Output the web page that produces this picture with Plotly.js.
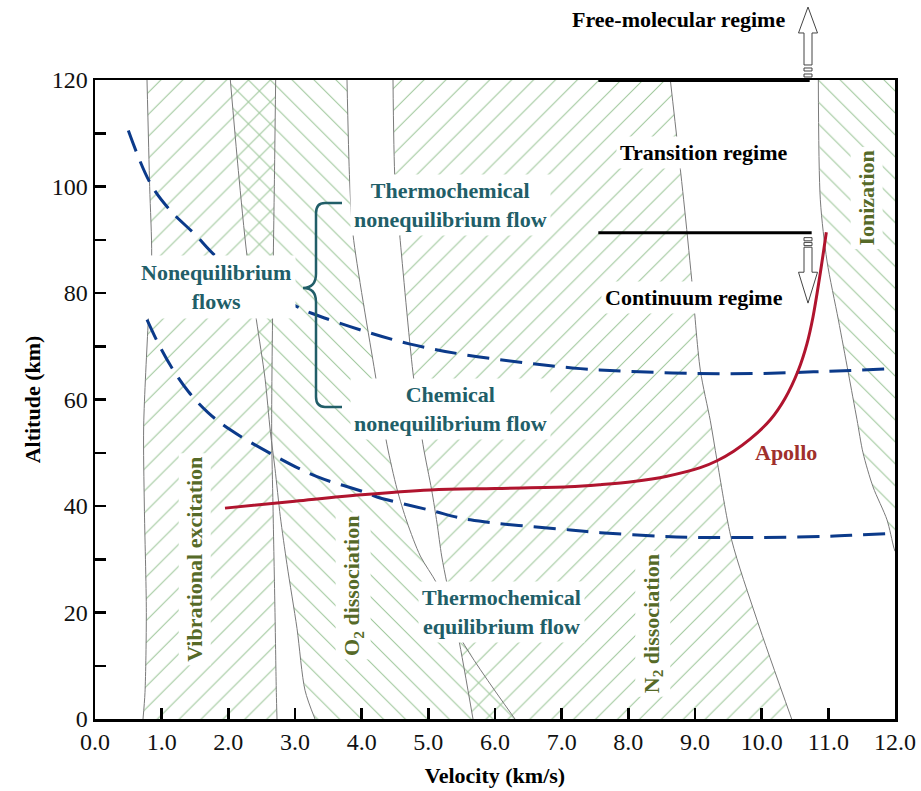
<!DOCTYPE html>
<html>
<head>
<meta charset="utf-8">
<script src="https://cdn.plot.ly/plotly-3.0.1.min.js"></script>
<style>
  html, body { margin: 0; padding: 0; background: #ffffff; }
  #chart { width: 921px; height: 791px; }
</style>
</head>
<body>
<div id="chart"></div>
<script>
// Velocity–altitude map with regions of vibrational excitation,
// O2 / N2 dissociation and ionization, plus the Apollo entry trajectory.

// ---- boundary curves: velocity (km/s) at altitude (km) ----
const vibStartV = [0.78, 0.82, 0.85, 0.80, 0.73, 0.74, 0.77, 0.75, 0.72];
const vibStartH = [120, 100, 87, 75, 55, 40, 20, 5, 0];

const vibEndV = [2.71, 2.69, 2.675, 2.65, 2.67, 2.70, 2.72, 2.73];
const vibEndH = [120, 100, 87, 54, 40, 20, 5, 0];

const o2StartV = [2.03, 2.15, 2.28, 2.42, 2.55, 2.63, 2.70, 2.78, 2.88, 3.03, 3.15, 3.30];
const o2StartH = [120, 103, 87, 75, 64, 54, 47, 38, 29, 17, 5.4, 0];

const o2EndV = [3.78, 3.82, 3.87, 4.20, 4.38, 4.53, 4.68, 4.88, 5.13, 5.50, 6.30];
const o2EndH = [120, 101, 91, 65, 51.5, 43.2, 37.0, 30.6, 25.4, 14.8, 0];

const n2StartV = [4.47, 4.50, 4.57, 4.77, 4.92, 5.05, 5.13, 5.20, 5.28, 5.45, 5.67];
const n2StartH = [120, 101, 91, 65, 51.5, 43.0, 36.8, 30.6, 25.4, 15.4, 0];

const n2EndV = [8.63, 8.83, 8.95, 9.08, 9.23, 9.33, 9.55, 9.93, 10.45];
const n2EndH = [120, 97.5, 82.6, 65.5, 56, 48.6, 33.6, 18.6, 0];

const ionStartV = [10.85, 10.88, 10.98, 11.15, 11.30, 11.43, 11.52, 11.67, 11.88, 11.98, 12.0];
const ionStartH = [120, 97.5, 86, 75, 65, 56.2, 50, 43.6, 37.4, 32.3, 31.5];
const ionEdgeV = [12, 12];
const ionEdgeH = [120, 31.5];

// ---- flow-regime boundaries (dashed) ----
const thermoNoneqV = [0.5, 0.83, 1.13, 1.5, 1.83, 2.45, 3.1, 3.25, 4.0, 4.73, 5.5, 6.5, 7.28, 8.0, 9.0, 10.0, 11.0, 12.0];
const thermoNoneqH = [110.5, 100.6, 95.5, 91, 86.7, 81.5, 77, 76.2, 73, 70.4, 68.5, 66.8, 65.8, 65.3, 64.9, 64.9, 65.3, 65.8];

const chemNoneqV = [0.78, 0.95, 1.15, 1.4, 1.7, 2.03, 2.67, 3.33, 4.02, 4.23, 5.03, 5.63, 7.13, 7.58, 8.5, 9.08, 10.0, 11.0, 11.5, 12.0];
const chemNoneqH = [75, 70.5, 66, 61.5, 57.5, 54.3, 49.6, 45.5, 42.7, 41.7, 39.2, 37.4, 35.5, 35.0, 34.3, 34.1, 34.1, 34.3, 34.6, 34.9];

// ---- Apollo trajectory ----
const apolloV = [1.95, 3.0, 4.0, 5.03, 6.0, 7.1, 7.58, 8.08, 8.58, 9.08, 9.33, 9.58, 9.83, 10.13, 10.35, 10.55, 10.68, 10.77, 10.87, 10.97];
const apolloH = [39.6, 40.9, 42.1, 43.0, 43.3, 43.6, 44.0, 44.6, 45.6, 47.2, 48.5, 50.3, 52.6, 56.2, 60.2, 65.5, 70.5, 75.5, 83.0, 91.4];

// ---- rarefaction regime limits ----
const continuumV = [7.55, 10.75];
const continuumH = [91.3, 91.3];
const freeMolV = [7.55, 10.72];
const freeMolH = [120, 120];

// ---- axes ----
const xTickVals = [0, 1, 2, 3, 4, 5, 6, 7, 8, 9, 10, 11, 12];
const xTickText = ['0.0', '1.0', '2.0', '3.0', '4.0', '5.0', '6.0', '7.0', '8.0', '9.0', '10.0', '11.0', '12.0'];
const yTickVals = [0, 20, 40, 60, 80, 100, 120];
const yTickText = ['0', '20', '40', '60', '80', '100', '120'];

// ---- styling ----
const SERIF = 'Liberation Serif, Times New Roman, serif';
const HATCH = '#9cc598';
const EDGE = '#7a7a7a';
const TEAL = '#215e68';
const OLIVE = '#566a28';
const NAVY = '#0b3a8a';
const CRIMSON = '#b0142e';

function band(leftV, leftH, rightV, rightH, shape) {
  return {
    x: leftV.concat(rightV.slice().reverse()),
    y: leftH.concat(rightH.slice().reverse()),
    mode: 'lines',
    line: { width: 0 },
    fill: 'toself',
    fillcolor: 'rgba(0,0,0,0)',
    fillpattern: { shape: shape, fgcolor: HATCH, bgcolor: 'rgba(0,0,0,0)', size: 15.5, solidity: 0.065 },
    hoverinfo: 'skip'
  };
}

function edge(v, h) {
  return { x: v, y: h, mode: 'lines', line: { color: EDGE, width: 1, shape: 'spline', smoothing: 0.8 }, hoverinfo: 'skip' };
}

const traces = [
  band(vibStartV, vibStartH, vibEndV, vibEndH, '/'),
  band(o2StartV, o2StartH, o2EndV, o2EndH, '\\'),
  band(n2StartV, n2StartH, n2EndV, n2EndH, '/'),
  band(ionStartV, ionStartH, ionEdgeV, ionEdgeH, '\\'),
  edge(vibStartV, vibStartH),
  edge(vibEndV, vibEndH),
  edge(o2StartV, o2StartH),
  edge(o2EndV, o2EndH),
  edge(n2StartV, n2StartH),
  edge(n2EndV, n2EndH),
  edge(ionStartV, ionStartH),
  { x: thermoNoneqV, y: thermoNoneqH, mode: 'lines', line: { color: NAVY, width: 3, dash: '22px,11px', shape: 'spline' }, hoverinfo: 'skip' },
  { x: chemNoneqV, y: chemNoneqH, mode: 'lines', line: { color: NAVY, width: 3, dash: '22px,11px', shape: 'spline' }, hoverinfo: 'skip' },
  { x: apolloV, y: apolloH, mode: 'lines', line: { color: CRIMSON, width: 3, shape: 'spline', smoothing: 1 }, hoverinfo: 'skip' },
  { x: continuumV, y: continuumH, mode: 'lines', line: { color: '#000', width: 3 }, hoverinfo: 'skip' },
  { x: freeMolV, y: freeMolH, mode: 'lines', line: { color: '#000', width: 4 }, hoverinfo: 'skip' }
];

// ---- hollow arrows marking the regime limits ----
const arrowX = 10.695;
const headHalf = 0.1425;
const shaftHalf = 0.06;

function upArrowPath(x, tip, base, bottom) {
  return 'M' + x + ',' + tip + ' L' + (x + headHalf) + ',' + base + ' L' + (x + shaftHalf) + ',' + base +
    ' L' + (x + shaftHalf) + ',' + bottom + ' L' + (x - shaftHalf) + ',' + bottom + ' L' + (x - shaftHalf) + ',' + base +
    ' L' + (x - headHalf) + ',' + base + ' Z';
}
function barPath(x, y0, y1) {
  return 'M' + (x - shaftHalf) + ',' + y0 + ' L' + (x + shaftHalf) + ',' + y0 + ' L' + (x + shaftHalf) + ',' + y1 +
    ' L' + (x - shaftHalf) + ',' + y1 + ' Z';
}

const arrowStyle = { color: '#444', width: 1 };
const shapes = [
  // up arrow above the free-molecular limit (paper units vertically)
  { type: 'path', xref: 'x', yref: 'paper', path: upArrowPath(arrowX, 1.1142, 1.0736, 1.0235), line: arrowStyle, fillcolor: '#fff', layer: 'above' },
  { type: 'path', xref: 'x', yref: 'paper', path: barPath(arrowX, 1.0188, 1.0141), line: arrowStyle, fillcolor: '#fff', layer: 'above' },
  { type: 'path', xref: 'x', yref: 'paper', path: barPath(arrowX, 1.0094, 1.0047), line: arrowStyle, fillcolor: '#fff', layer: 'above' },
  // down arrow below the continuum limit
  { type: 'path', xref: 'x', yref: 'y', path: upArrowPath(arrowX, 78.1, 83.9, 88.6), line: arrowStyle, fillcolor: '#fff', layer: 'above' },
  { type: 'path', xref: 'x', yref: 'y', path: barPath(arrowX, 90.4, 89.8), line: arrowStyle, fillcolor: '#fff', layer: 'above' },
  { type: 'path', xref: 'x', yref: 'y', path: barPath(arrowX, 89.5, 88.9), line: arrowStyle, fillcolor: '#fff', layer: 'above' },
  // curly brace grouping the two nonequilibrium flow types
  { type: 'path', xref: 'x', yref: 'y', layer: 'above',
    path: 'M3.705,96.9 L3.45,96.9 Q3.315,96.9 3.315,95.0 L3.315,83.6 Q3.315,80.94 3.12,80.94 ' +
          'Q3.315,80.94 3.315,78.3 L3.315,60.5 Q3.315,58.6 3.45,58.6 L3.705,58.6',
    line: { color: TEAL, width: 2.5 } }
];

function label(text, x, y, color, opts) {
  return Object.assign({
    text: '<b>' + text + '</b>', x: x, y: y, xref: 'x', yref: 'y', showarrow: false,
    font: { family: SERIF, size: 22, color: color }, align: 'center',
    xanchor: 'center', yanchor: 'middle', bgcolor: '#ffffff', borderpad: 3
  }, opts || {});
}

const annotations = [
  label('Free-molecular regime', 8.75, 1.094, '#000', { yref: 'paper', bgcolor: 'rgba(0,0,0,0)' }),
  label('Transition regime', 9.12, 106.3, '#000'),
  label('Continuum regime', 8.98, 79.1, '#000'),
  label('Thermochemical<br>nonequilibrium flow', 5.33, 96.5, TEAL),
  label('Nonequilibrium<br>flows', 1.82, 81.2, TEAL, { borderpad: 4 }),
  label('Chemical<br>nonequilibrium flow', 5.33, 58.2, TEAL),
  label('Thermochemical<br>equilibrium flow', 6.1, 20.1, TEAL),
  label('Vibrational excitation', 1.5, 29.9, OLIVE, { textangle: -90 }),
  label('O<sub>2</sub> dissociation', 3.87, 25.0, OLIVE, { textangle: -90 }),
  label('N<sub>2</sub> dissociation', 8.37, 17.8, OLIVE, { textangle: -90 }),
  label('Ionization', 11.57, 97.8, OLIVE, { textangle: -90 }),
  label('Apollo', 10.36, 50.1, '#a0302c', { bgcolor: 'rgba(0,0,0,0)' })
];

const axisCommon = {
  showline: true, linecolor: '#000', linewidth: 2.5, mirror: true,
  showgrid: false, zeroline: false,
  ticks: 'inside', ticklen: 11, tickwidth: 2.5, tickcolor: '#000',
  tickfont: { family: SERIF, size: 24, color: '#111' }
};

const layout = {
  width: 921, height: 791,
  margin: { l: 95, r: 26, t: 80, b: 72 },
  paper_bgcolor: '#ffffff', plot_bgcolor: '#ffffff',
  showlegend: false,
  xaxis: Object.assign({}, axisCommon, {
    range: [0, 12], tickmode: 'array', tickvals: xTickVals, ticktext: xTickText,
    title: { text: '<b>Velocity (km/s)</b>', font: { family: SERIF, size: 22, color: '#000' }, standoff: 14 }
  }),
  yaxis: Object.assign({}, axisCommon, {
    range: [0, 120], tickmode: 'array', tickvals: yTickVals, ticktext: yTickText,
    minor: { tickvals: [10, 30, 50, 70, 90, 110], ticks: 'inside', ticklen: 11, tickwidth: 2.5, tickcolor: '#000' },
    title: { text: '<b>Altitude (km)</b>', font: { family: SERIF, size: 22, color: '#000' }, standoff: 5 }
  }),
  shapes: shapes,
  annotations: annotations
};

Plotly.newPlot('chart', traces, layout, { displayModeBar: false, staticPlot: true });
</script>
</body>
</html>
